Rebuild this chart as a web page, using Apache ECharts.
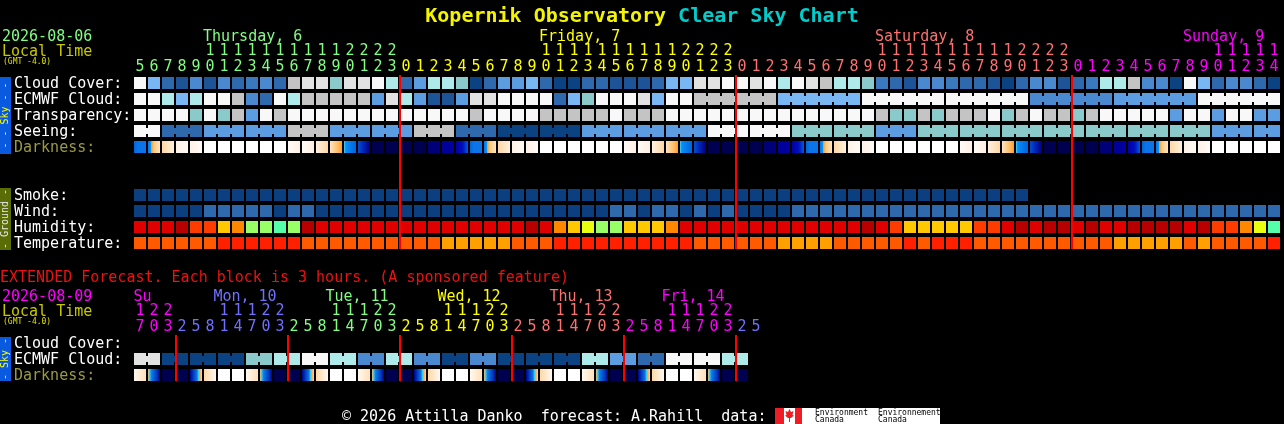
<!DOCTYPE html>
<html><head><meta charset="utf-8">
<script src="https://cdn.jsdelivr.net/npm/echarts/dist/echarts.min.js"></script>
<style>html,body{margin:0;padding:0;background:#000;}#c{width:1284px;height:424px;}</style>
</head><body><div id="c"></div>
<script>
// ---------- DATA ----------
const hoursMain = [5,6,7,8,9,10,11,12,13,14,15,16,17,18,19,20,21,22,23,
  0,1,2,3,4,5,6,7,8,9,10,11,12,13,14,15,16,17,18,19,20,21,22,23,
  0,1,2,3,4,5,6,7,8,9,10,11,12,13,14,15,16,17,18,19,20,21,22,23,
  0,1,2,3,4,5,6,7,8,9,10,11,12,13,14];
const mainDayNames = ['Thursday, 6','Friday, 7','Saturday, 8','Sunday, 9'];
const mainDayNameCols = [5,29,53,75];
const rowLabelsMain = ['Cloud Cover:','ECMWF Cloud:','Transparency:','Seeing:','Darkness:',' ','  ','Smoke:','Wind:','Humidity:','Temperature:'];

// cloud-style levels: 0 = clear (dark blue) ... 11 = overcast (white)
const cloudCover = [11,6,2,1,4,1,4,2,3,4, 2,9,10,10,8,10,10,11,7,2, 5,7,7,8,0,2,5,5,6,2,
  0,0,2,2,1,1,1,2,6,6, 10,10,11,11,10,11,7,11,10,9, 7,7,8,3,2,1,4,4,3,2,
  2,1,0,2,4,4,1,2,3,7, 7,9,4,4,0,11,6,2,4,4, 2,0];
const ecmwfValues = [11,11,7,6,7,11,11,9,4,2, 11,7,9,9,9,9,9,5,10,7, 5,1,1,5,10,10,11,11,11,11,
  2,6,8,11,11,11,10,6,11,11, 9,6,11,11,4,5,11];
const ecmwfSpans = [1,1,1,1,1,1,1,1,1,1, 1,1,1,1,1,1,1,1,1,1, 1,1,1,1,1,1,1,1,1,1,
  1,1,1,1,1,1,1,1,1,1, 6,6,6,6,6,6,6];
const transparency = [11,11,11,11,8,11,8,9,5,11, 9,11,11,11,11,11,11,11,11,11, 11,11,11,11,9,11,11,11,11,9,
  9,9,9,9,11,9,9,9,11,11, 11,11,11,11,11,11,11,11,11,11, 11,11,11,9,8,8,9,8,9,9,
  9,11,8,9,11,9,9,8,9,11, 11,11,11,11,5,11,11,5,11,11, 5,5];
const seeingValues = [11,2,5,5,9,5,5,9,2,0,0,5,5,5,11,11,8,8,5,8,8,8,8,8,8,8,5,5];
const seeingSpans = [2,3,3,3,3,3,3,3,3,3,3,3,3,3,3,3,3,3,3,3,3,3,3,3,3,3,3,2];
const darknessMain = ['B','M','C','c','c','W','W','W','W','W', 'W','e','e','F','E','T','K','N','N','N',
  'N','n','m','d','B','M','C','c','c','W', 'W','W','W','W','W','e','e','F','E','T',
  'K','N','N','N','N','n','m','d','B','M', 'C','c','c','W','W','W','W','W','W','e',
  'e','F','E','T','K','N','N','N','N','n', 'm','d','B','M','C','c','c','W','W','W', 'W','W'];
const smoke = [0,0,0,0,0,0,0,0,0,0, 0,0,0,0,0,0,0,0,0,0, 0,0,0,0,0,0,0,0,0,0,
  0,0,0,0,0,0,0,0,0,0, 0,0,0,0,0,0,0,0,0,0, 0,0,0,0,0,0,0,0,0,0, 0,0,0,0];
const wind = [0,0,0,0,0,1,1,1,1,1, 0,1,1,0,0,0,0,0,0,0, 0,0,0,0,0,0,0,0,0,0,
  0,0,0,0,1,1,0,1,1,0, 1,0,1,0,0,0,0,1,1,1, 1,1,1,1,1,1,1,1,1,1,
  1,1,1,1,1,1,1,1,1,1, 1,1,1,1,1,1,1,1,1,1, 1,1];
const humidity = [6,6,6,7,5,5,3,4,1,1, 0,1,7,6,6,6,6,6,6,6, 6,6,6,6,6,6,6,6,7,6,
  4,3,2,1,1,3,3,3,4,6, 6,6,6,6,6,6,6,6,6,6, 6,6,7,6,5,3,3,3,3,3,
  5,5,6,7,6,7,7,6,7,6, 6,7,7,7,7,6,7,5,5,4, 2,0];
const temperature = [1,1,1,1,1,1,2,2,2,2, 2,2,1,1,1,1,1,1,1,1, 1,1,0,0,0,0,0,1,1,1,
  2,2,2,2,2,2,2,2,2,2, 1,1,1,1,1,1,0,0,0,0, 1,1,1,1,1,2,1,2,2,2,
  1,1,1,1,1,1,1,1,1,1, 0,0,0,0,0,1,0,1,1,1, 1,2];

// extended forecast (3-hour blocks)
const hoursExt = [17,20,23, 2,5,8,11,14,17,20,23, 2,5,8,11,14,17,20,23, 2,5,8,11,14,17,20,23,
  2,5,8,11,14,17,20,23, 2,5,8,11,14,17,20,23, 2,5];
const extDayNames = ['Su','Mon, 10','Tue, 11','Wed, 12','Thu, 13','Fri, 14'];
const extDayNameCols = [0,8,16,24,32,40];
const rowLabelsExt = ['Cloud Cover:','ECMWF Cloud:','Darkness:'];
const ecmwfExtValues = [10,0,0,0,8,7,11,7,4,7,4,0,4,0,0,0,7,5,2,11,11,7];
const ecmwfExtSpans = [2,2,2,2,2,2,2,2,2,2,2,2,2,2,2,2,2,2,2,2,2,2];
const darknessExt = ['V','X','N', 'N','Y','Z','W','W','V','X','N', 'N','Y','Z','W','W','V','X','N',
  'N','Y','Z','W','W','V','X','N', 'N','Y','Z','W','W','V','X','N', 'N','Y','Z','W','W','V','X','N', 'N'];

// ---------- STYLES ----------
const FONT = 'DejaVu Sans Mono';
const mainDayColors = ['#80ff80','#ffff00','#ff7070','#ff00ff'];
const extDayColors = ['#ff00ff','#7070ff','#80ff80','#ffff00','#ff7070','#ff00ff','#7070ff'];
const CLOUD = ['#0b4282','#1d5497','#2d69ac','#3b79bf','#4a88cf','#5c9ce1','#78b6f4','#aeeaea','#8acaca','#c4c4c4','#e2e2e2','#f8f8f8'];
const SMOKE = ['#0b3f80'];
const WIND = ['#0b3f80','#2d69ac'];
const HUM = ['#55ffaa','#99ff66','#eaff10','#ffc800','#ff8800','#ff3c00','#e00000','#b80000'];
const TEMP = ['#ffa000','#ff5a00','#ff2000'];
const DARK = {
  N:'#000050', n:'#000078', m:'#00009c', W:'#ffffff',
  d:[[0,'#0000a8'],[0.55,'#0010b8'],[1,'#0058e8']],
  B:[[0,'#0064dc'],[0.3,'#0a74e8'],[1,'#0a74e8']],
  M:[[0,'#0078f0'],[0.2,'#0a8cf8'],[0.3,'#50d0f0'],[0.38,'#ffb040'],[0.5,'#ffc880'],[1,'#ffe6c4']],
  C:[[0,'#ffd8a4'],[1,'#fff0e0']],
  c:[[0,'#fff2e6'],[1,'#fffaf6']],
  e:[[0,'#fffaf6'],[1,'#fff0e2']],
  F:[[0,'#fff0e0'],[1,'#ffd8a4']],
  E:[[0,'#ffe4c0'],[0.6,'#ffc070'],[1,'#ffa020']],
  T:[[0,'#50d0f0'],[0.15,'#0a8cf8'],[1,'#0064dc']],
  K:[[0,'#0050d8'],[0.5,'#0020b0'],[1,'#000080']],
  V:[[0,'#fff8f0'],[1,'#ffe0b8']],
  X:[[0,'#ffb050'],[0.1,'#50d0f0'],[0.3,'#0a7ce8'],[0.7,'#0040c0'],[1,'#000090']],
  Y:[[0,'#000090'],[0.3,'#0040c0'],[0.6,'#0a7ce8'],[0.72,'#50d0f0'],[0.8,'#ffa030'],[1,'#ffd8a0']],
  Z:[[0,'#ffd8a8'],[1,'#fff8f0']]
};

// ---------- BUILD ----------
function dayIndex(hours){ const out=[]; let d=0; hours.forEach((h,i)=>{ if(i>0 && h<hours[i-1]) d++; out.push(d); }); return out; }
function dayStarts(hours){ const out=[]; hours.forEach((h,i)=>{ if(i>0 && h<hours[i-1]) out.push([i,0]); }); return out; }
const dayMain = dayIndex(hoursMain), dayExt = dayIndex(hoursExt);

function addRow(cells, row, values, palette, spans){
  let col = 0;
  values.forEach((v,i)=>{
    const span = spans ? spans[i] : 1;
    for(let k=0;k<span;k++) cells.push({col:col+k, row, fill:palette[v], join:k<span-1});
    col += span;
  });
}
const cellsMain = [], cellsExt = [];
addRow(cellsMain, 0, cloudCover, CLOUD);
addRow(cellsMain, 1, ecmwfValues, CLOUD, ecmwfSpans);
addRow(cellsMain, 2, transparency, CLOUD);
addRow(cellsMain, 3, seeingValues, CLOUD, seeingSpans);
addRow(cellsMain, 4, darknessMain, DARK);
addRow(cellsMain, 7, smoke, SMOKE);
addRow(cellsMain, 8, wind, WIND);
addRow(cellsMain, 9, humidity, HUM);
addRow(cellsMain, 10, temperature, TEMP);
addRow(cellsExt, 1, ecmwfExtValues, CLOUD, ecmwfExtSpans);
addRow(cellsExt, 2, darknessExt, DARK);

function makeFill(spec){
  if (typeof spec === 'string') return spec;
  return {type:'linear', x:0, y:0, x2:1, y2:0, global:false,
    colorStops: spec.map(s=>({offset:s[0], color:s[1]}))};
}
function cellRenderer(cells){
  return function(params, api){
    const c = cells[params.dataIndex];
    const p = api.coord([api.value(0), api.value(1)]);
    const s = api.size([1,1]);
    const w = s[0]-2, h = s[1]-4;
    const x = Math.round(p[0]-w/2), y = Math.round(p[1]-h/2);
    const fill = makeFill(c.fill);
    const children = [{type:'rect', shape:{x, y, width:w, height:h}, style:{fill}}];
    if (c.join) children.push({type:'rect', shape:{x:x+w, y:y+3, width:s[0]-w, height:h-6}, style:{fill}});
    return {type:'group', children};
  };
}
function lineRenderer(params, api){
  const p = api.coord([api.value(0), 0]);
  const s = api.size([1,1]);
  const x = Math.round(p[0]-s[0]/2) + 1;
  const cs = params.coordSys;
  return {type:'line', shape:{x1:x, y1:cs.y, x2:x, y2:cs.y+cs.height-2}, style:{stroke:'#ff0000', lineWidth:2}};
}
function richDays(colors){
  const r = {};
  colors.forEach((c,i)=>{ r['d'+i] = {color:c, fontFamily:FONT, fontSize:15, lineHeight:16}; });
  return r;
}
function hourLabel(hours, days){
  return function(v, idx){
    const h = hours[idx], d = 'd'+days[idx];
    return '{'+d+'|'+(h>=10 ? Math.floor(h/10) : ' ')+'}\n{'+d+'|'+(h%10)+'}';
  };
}
const noLine = {axisLine:{show:false}, axisTick:{show:false}, splitLine:{show:false}};
const txt = (x,y,text,fill,size,extra) => Object.assign({type:'text', x, y, silent:true,
  style:{text, fill, font:size+'px "'+FONT+'"', verticalAlign:'middle', textVerticalAlign:'middle', align:'left', textAlign:'left'}}, extra||{});
const rotTxt = (x,y,text,fill,size) => ({type:'text', x, y, rotation:Math.PI/2, silent:true,
  style:{text, fill, font:size+'px "'+FONT+'"', align:'center', textAlign:'center', verticalAlign:'middle', textVerticalAlign:'middle'}});

const chart = echarts.init(document.getElementById('c'), null, {renderer:'canvas'});
chart.setOption({
  backgroundColor:'#000',
  animation:false,
  title:{text:'{a|Kopernik Observatory} {b|Clear Sky Chart}', left:'center', top:2,
    textStyle:{fontFamily:FONT, fontSize:20, fontWeight:'bold', color:'#ffff00',
      rich:{a:{color:'#f4f400', fontFamily:FONT, fontSize:20, fontWeight:'bold'},
            b:{color:'#00cccc', fontFamily:FONT, fontSize:20, fontWeight:'bold'}}}},
  grid:[{left:133, top:75, width:1148, height:176}, {left:133, top:335, width:630, height:48}],
  xAxis:[
    Object.assign({type:'category', gridIndex:0, position:'top', data:hoursMain.map((h,i)=>'m'+i),
      axisLabel:{interval:0, margin:0, formatter:hourLabel(hoursMain, dayMain), rich:richDays(mainDayColors)}}, noLine),
    Object.assign({type:'value', gridIndex:0, position:'top', offset:28, min:0, max:82, interval:1,
      axisLabel:{margin:2, align:'left', rich:richDays(mainDayColors),
        formatter:(v)=>{ const k = mainDayNameCols.indexOf(Math.round(v)); return k<0 ? '' : '{d'+k+'|'+mainDayNames[k]+'}'; }}}, noLine),
    Object.assign({type:'category', gridIndex:1, position:'top', data:hoursExt.map((h,i)=>'e'+i),
      axisLabel:{interval:0, margin:0, formatter:hourLabel(hoursExt, dayExt), rich:richDays(extDayColors)}}, noLine),
    Object.assign({type:'value', gridIndex:1, position:'top', offset:28, min:0, max:45, interval:1,
      axisLabel:{margin:2, align:'center', rich:Object.assign(richDays(extDayColors), {s:{color:extDayColors[0], fontFamily:FONT, fontSize:15, lineHeight:16, padding:[0,0,0,19]}}),
        formatter:(v)=>{ const k = extDayNameCols.indexOf(Math.round(v)); if(k<0) return ''; return k===0 ? '{s|'+extDayNames[0]+'}' : '{d'+k+'|'+extDayNames[k]+'}'; }}}, noLine)
  ],
  yAxis:[
    Object.assign({type:'category', gridIndex:0, inverse:true, data:rowLabelsMain,
      axisLabel:{interval:0, align:'left', margin:119, formatter:(v)=> v==='Darkness:' ? '{o|'+v+'}' : '{w|'+v+'}',
        rich:{w:{color:'#ffffff', fontFamily:FONT, fontSize:15, padding:[2,0,0,0]}, o:{color:'#9a9a44', fontFamily:FONT, fontSize:15, padding:[2,0,0,0]}}}}, noLine),
    Object.assign({type:'category', gridIndex:1, inverse:true, data:rowLabelsExt,
      axisLabel:{interval:0, align:'left', margin:119, formatter:(v)=> v==='Darkness:' ? '{o|'+v+'}' : '{w|'+v+'}',
        rich:{w:{color:'#ffffff', fontFamily:FONT, fontSize:15, padding:[2,0,0,0]}, o:{color:'#9a9a44', fontFamily:FONT, fontSize:15, padding:[2,0,0,0]}}}}, noLine)
  ],
  series:[
    {type:'custom', xAxisIndex:0, yAxisIndex:0, clip:false, silent:true, encode:{x:0,y:1},
      data:cellsMain.map(c=>[c.col,c.row]), renderItem:cellRenderer(cellsMain)},
    {type:'custom', xAxisIndex:0, yAxisIndex:0, clip:false, silent:true, z:5, encode:{x:0,y:1},
      data:dayStarts(hoursMain), renderItem:lineRenderer},
    {type:'custom', xAxisIndex:2, yAxisIndex:1, clip:false, silent:true, encode:{x:0,y:1},
      data:cellsExt.map(c=>[c.col,c.row]), renderItem:cellRenderer(cellsExt)},
    {type:'custom', xAxisIndex:2, yAxisIndex:1, clip:false, silent:true, z:5, encode:{x:0,y:1},
      data:dayStarts(hoursExt), renderItem:lineRenderer}
  ],
  graphic:[
    txt(2, 37, '2026-08-06', '#80ff80', 15),
    txt(2, 52, 'Local Time', '#c8c800', 15),
    txt(3, 62, '(GMT -4.0)', '#e0e000', 8),
    {type:'rect', x:0, y:77, shape:{x:0,y:0,width:11,height:77}, style:{fill:'#0a5ae0'}, silent:true},
    rotTxt(5.5, 115.5, '- - Sky - -', '#ffff00', 10),
    {type:'rect', x:0, y:188, shape:{x:0,y:0,width:11,height:62}, style:{fill:'#5a6c06'}, silent:true},
    rotTxt(5.5, 219, '- Ground -', '#e8e8e8', 10),
    txt(0, 278, 'EXTENDED Forecast. Each block is 3 hours. (A sponsored feature)', '#ee1111', 15),
    txt(2, 297, '2026-08-09', '#ff00ff', 15),
    txt(2, 312, 'Local Time', '#c8c800', 15),
    txt(3, 322, '(GMT -4.0)', '#e0e000', 8),
    {type:'rect', x:0, y:337, shape:{x:0,y:0,width:11,height:44}, style:{fill:'#0a5ae0'}, silent:true},
    rotTxt(5.5, 359, '- Sky -', '#ffff00', 10),
    txt(342, 417, '\u00a9 2026 Attilla Danko  forecast: A.Rahill  data:', '#ffffff', 15),
    {type:'rect', x:775, y:408, shape:{x:0,y:0,width:165,height:16}, style:{fill:'#ffffff'}, silent:true},
    {type:'rect', x:775, y:408, shape:{x:0,y:0,width:9,height:16}, style:{fill:'#ee1c24'}, silent:true},
    {type:'rect', x:795, y:408, shape:{x:0,y:0,width:7,height:16}, style:{fill:'#ee1c24'}, silent:true},
    {type:'polygon', shape:{points:[[789.5,409],[791,412],[793.5,411],[792.5,415],[794,415.5],[791,418],[790,418],[790,422],[789,422],[789,418],[788,418],[785,415.5],[786.5,415],[785.5,411],[788,412]]}, style:{fill:'#ee1c24'}, silent:true},
    txt(815, 412.5, 'Environment', '#000000', 8),
    txt(815, 420, 'Canada', '#000000', 8),
    txt(878, 412.5, 'Environnement', '#000000', 8),
    txt(878, 420, 'Canada', '#000000', 8)
  ]
});
</script></body></html>
